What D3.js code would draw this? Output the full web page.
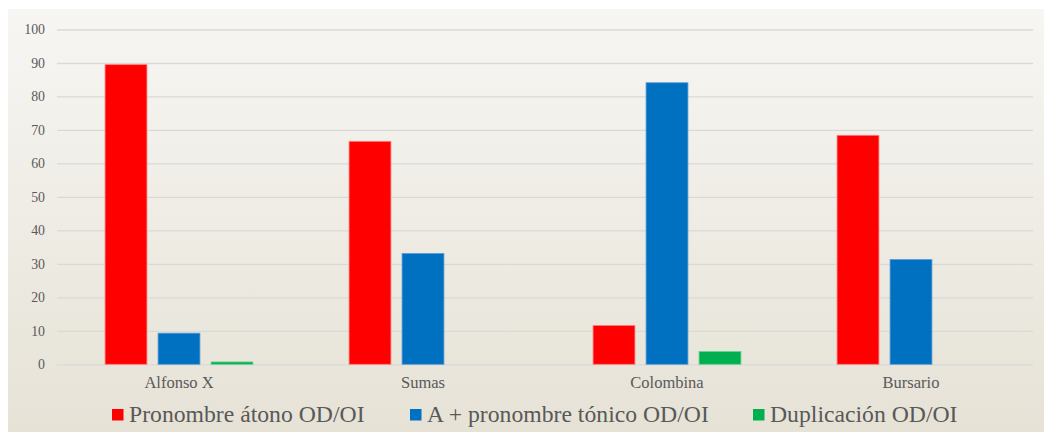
<!DOCTYPE html>
<html><head><meta charset="utf-8">
<script src="https://cdn.jsdelivr.net/npm/d3@7"></script>
<style>html,body{margin:0;padding:0;background:#fff;}svg{display:block;}</style>
</head><body>
<script>
const categories = ["Alfonso X", "Sumas", "Colombina", "Bursario"];
const seriesNames = ["Pronombre átono OD/OI", "A + pronombre tónico OD/OI", "Duplicación OD/OI"];
const pronombreAtono = [89.5, 66.6, 11.6, 68.4];
const aPronombreTonico = [9.3, 33.1, 84.1, 31.3];
const duplicacion = [0.7, 0, 3.8, 0];
const yTicks = [0, 10, 20, 30, 40, 50, 60, 70, 80, 90, 100];
const colors = ["#ff0000", "#0070c0", "#00b050"];
const strokes = ["#ff7f7f", "#5b9bd5", "#66d08f"];

const FONT = "'Liberation Serif', 'Times New Roman', serif";
const W = 1044, H = 432;
const svg = d3.select("body").append("svg").attr("width", W).attr("height", H);
const defs = svg.append("defs");
const grad = defs.append("linearGradient").attr("id", "bg").attr("x1", 0).attr("y1", 0).attr("x2", 0).attr("y2", 1);
grad.append("stop").attr("offset", "0%").attr("stop-color", "#f7f6f3");
grad.append("stop").attr("offset", "100%").attr("stop-color", "#e6e2d6");
svg.append("rect").attr("x", 8).attr("y", 9).attr("width", W - 8).attr("height", H - 9).attr("fill", "url(#bg)");

const mLeft = 57, mRight = 1033, mTop = 29.5, mBottom = 364.3;
const y = d3.scaleLinear().domain([0, 100]).range([mBottom, mTop]);
const x0 = d3.scaleBand().domain(categories).range([mLeft, mRight]).paddingInner(0.394).paddingOuter(0.197);
const x1 = d3.scaleBand().domain(seriesNames).range([0, x0.bandwidth()]).paddingInner(0.21);

// gridlines
const yAxis = d3.axisLeft(y).tickValues(yTicks).tickSize(-(mRight - mLeft)).tickPadding(12);
const gy = svg.append("g").attr("transform", `translate(${mLeft},0)`).call(yAxis);
gy.select(".domain").remove();
gy.selectAll(".tick line").attr("stroke", "#d9d9d9").attr("stroke-width", 1.3);
gy.selectAll(".tick text").attr("fill", "#595959").attr("font-family", FONT).attr("font-size", 13.8);

const xAxis = d3.axisBottom(x0).tickSize(0).tickPadding(12);
const gx = svg.append("g").attr("transform", `translate(0,${mBottom})`).call(xAxis);
gx.select(".domain").remove();
gx.selectAll(".tick text").attr("fill", "#595959").attr("font-family", FONT).attr("font-size", 16.5);

const series = [pronombreAtono, aPronombreTonico, duplicacion];
const groups = svg.append("g").selectAll("g").data(categories).join("g")
  .attr("transform", d => `translate(${x0(d)},0)`);
groups.selectAll("rect").data((c, ci) => seriesNames.map((s, si) => ({s, si, v: series[si][ci]})).filter(d => d.v > 0))
  .join("rect")
  .attr("x", d => x1(d.s))
  .attr("width", x1.bandwidth())
  .attr("y", d => y(d.v))
  .attr("height", d => y(0) - y(d.v))
  .attr("fill", d => colors[d.si])
  .attr("stroke", d => strokes[d.si])
  .attr("stroke-width", 0.8);

// legend
const legendX = [112, 410, 753];
const leg = svg.append("g");
seriesNames.forEach((n, i) => {
  leg.append("rect").attr("x", legendX[i]).attr("y", 409).attr("width", 11.5).attr("height", 11.5).attr("fill", colors[i]);
  leg.append("text").attr("x", legendX[i] + 17).attr("y", 422).text(n)
    .attr("fill", "#595959").attr("font-family", FONT).attr("font-size", 23.7);
});
</script>
</body></html>
